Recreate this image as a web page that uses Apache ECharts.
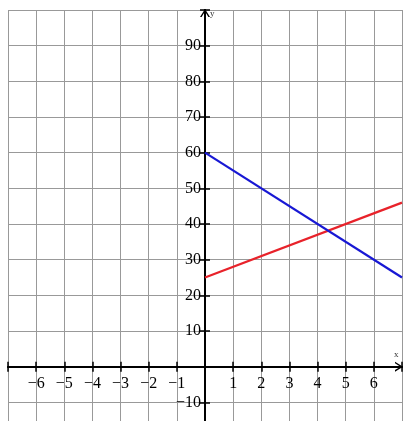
<!DOCTYPE html>
<html>
<head>
<meta charset="utf-8">
<script src="https://cdn.jsdelivr.net/npm/echarts@6/dist/echarts.min.js"></script>
<style>html,body{margin:0;padding:0;background:#fff}#c{width:414px;height:428px}</style>
</head>
<body>
<div id="c"></div>
<script>
const xMin = -7, xMax = 7;
const yMin = -20, yMax = 100;
const lineX = [0, 7];
const redY = [25, 46];
const blueY = [60, 25];
const hiddenXLabels = [-7, 0, 7];
const hiddenYLabels = [-20, 0, 100];

const G = { left: 8, width: 394, top: 10, height: 428 };
// distances from grid edges to the zero lines (axes cross at origin)
const zeroFromBottom = G.height * (0 - yMin) / (yMax - yMin);
const zeroFromTop = G.height - zeroFromBottom;
const zeroFromLeft = G.width * (0 - xMin) / (xMax - xMin);
const zeroFromRight = G.width - zeroFromLeft;

const fmt = v => v < 0 ? '\u2212' + Math.abs(v) : String(v);
const serif = '"Liberation Serif", "Times New Roman", serif';
const chevron = 'path://M5,0 L10,8 L8.4,8 L5,2.6 L1.6,8 L0,8 Z';
const axisLineStyle = { color: '#000', width: 2 };
const tickStyle = { color: '#000', width: 1.5 };

const chart = echarts.init(document.getElementById('c'), null, { renderer: 'canvas' });
chart.setOption({
  animation: false,
  backgroundColor: '#fff',
  grid: Object.assign({ containLabel: false, outerBoundsMode: 'none' }, G),
  xAxis: [
    {
      type: 'value', min: xMin, max: xMax, interval: 1, position: 'bottom', offset: -zeroFromBottom,
      axisLine: { onZero: false, lineStyle: axisLineStyle, symbol: ['none', chevron], symbolSize: [12, 8], symbolOffset: [0, -3] },
      axisTick: { show: true, length: 5, lineStyle: tickStyle },
      axisLabel: { margin: 9, fontFamily: serif, fontSize: 16, color: '#000', showMinLabel: true, showMaxLabel: true,
        formatter: v => hiddenXLabels.includes(v) ? '' : fmt(v) },
      splitLine: { show: true, lineStyle: { color: '#999', width: 1 } }
    },
    {
      type: 'value', min: xMin, max: xMax, interval: 1, position: 'top', offset: -zeroFromTop,
      axisLine: { onZero: false, lineStyle: axisLineStyle },
      axisTick: { show: true, length: 5, lineStyle: tickStyle },
      axisLabel: { show: false },
      splitLine: { show: false }
    }
  ],
  yAxis: [
    {
      type: 'value', min: yMin, max: yMax, interval: 10, position: 'left', offset: -zeroFromLeft,
      axisLine: { onZero: false, lineStyle: axisLineStyle, symbol: ['none', chevron], symbolSize: [12, 8], symbolOffset: [0, -3] },
      axisTick: { show: true, length: 5, lineStyle: tickStyle },
      axisLabel: { margin: 4, fontFamily: serif, fontSize: 16, color: '#000',
        formatter: v => hiddenYLabels.includes(v) ? '' : fmt(v) },
      splitLine: { show: true, lineStyle: { color: '#999', width: 1 } }
    },
    {
      type: 'value', min: yMin, max: yMax, interval: 10, position: 'right', offset: -zeroFromRight,
      axisLine: { onZero: false, lineStyle: axisLineStyle },
      axisTick: { show: true, length: 5, lineStyle: tickStyle },
      axisLabel: { show: false },
      splitLine: { show: false }
    }
  ],
  series: [
    {
      type: 'line', xAxisIndex: 0, yAxisIndex: 0, symbol: 'none', z: 5,
      lineStyle: { color: '#e8222a', width: 2.2 },
      data: lineX.map((x, i) => [x, redY[i]])
    },
    {
      type: 'line', xAxisIndex: 0, yAxisIndex: 0, symbol: 'none', z: 5,
      lineStyle: { color: '#1818d4', width: 2.2 },
      data: lineX.map((x, i) => [x, blueY[i]])
    }
  ],
  graphic: [
    { type: 'rect', shape: { x: 0, y: 421, width: 414, height: 7 }, style: { fill: '#fff' }, z: 100 },
    { type: 'text', left: 210, top: 9, style: { text: 'y', font: '9px "Liberation Serif"', fill: '#333' }, z: 101 },
    { type: 'text', left: 394, top: 350, style: { text: 'x', font: '9px "Liberation Serif"', fill: '#333' }, z: 101 }
  ]
});
</script>
</body>
</html>
